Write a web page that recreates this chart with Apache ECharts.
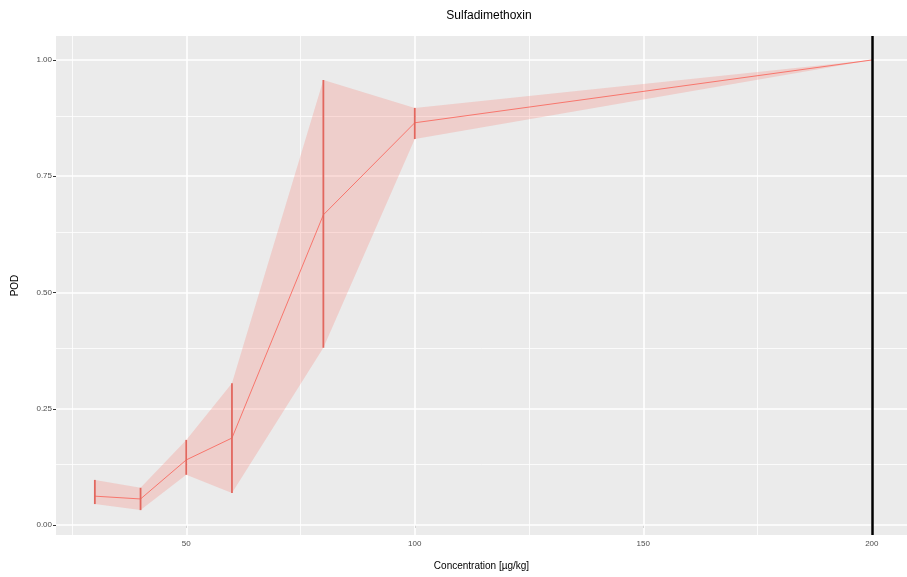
<!DOCTYPE html>
<html>
<head>
<meta charset="utf-8">
<script src="https://cdn.jsdelivr.net/npm/echarts@6/dist/echarts.min.js"></script>
<style>
  html, body { margin: 0; padding: 0; background: #fff; }
  #main { width: 907px; height: 577px; }
</style>
</head>
<body>
<div id="main"></div>
<script>
// concentration levels [µg/kg] and POD estimates with confidence bounds
var conc  = [30, 40, 50, 60, 80, 100, 200];
var pod   = [0.062, 0.056, 0.140, 0.187, 0.667, 0.865, 1.000];
var lower = [0.045, 0.032, 0.108, 0.069, 0.381, 0.830, 1.000];
var upper = [0.097, 0.080, 0.183, 0.305, 0.957, 0.897, 1.000];

var xTicks = [50, 100, 150, 200];
var xMinor = [25, 75, 125, 175];
var yTicks = [0, 0.25, 0.5, 0.75, 1];
var yMinor = [0.125, 0.375, 0.625, 0.875];
var refLine = 200;

var red = '#F8766D';
var font = 'Liberation Sans';

var chart = echarts.init(document.getElementById('main'));

var points = conc.map(function (c, i) { return [c, pod[i]]; });
var bars = conc.map(function (c, i) { return [c, lower[i], upper[i]]; });

// gridlines drawn as marklines so they land on the ggplot break values
function gridLines(vals, key, width) {
  return vals.map(function (v) {
    var d = { lineStyle: { color: '#ffffff', width: width, type: 'solid' } };
    d[key] = v;
    return d;
  });
}

var option = {
  animation: false,
  title: {
    text: 'Sulfadimethoxin',
    left: 484,
    top: 5,
    textAlign: 'center',
    textStyle: { fontFamily: font, fontSize: 12, fontWeight: 'normal', color: '#000' }
  },
  grid: {
    left: 56, right: 0, top: 36, bottom: 42,
    show: true, backgroundColor: '#ebebeb', borderWidth: 0
  },
  xAxis: {
    type: 'value',
    min: 21.5,
    max: 207.7,
    name: 'Concentration [µg/kg]',
    nameLocation: 'middle',
    nameGap: 26,
    nameTextStyle: { fontFamily: font, fontSize: 10, color: '#000' },
    axisLine: { show: false },
    axisTick: { show: true, customValues: xTicks, length: 3, lineStyle: { color: '#333' } },
    axisLabel: { customValues: xTicks, fontFamily: font, fontSize: 8, color: '#4d4d4d', margin: 5 },
    splitLine: { show: false }
  },
  yAxis: {
    type: 'value',
    min: -0.0215,
    max: 1.0516,
    name: 'POD',
    nameLocation: 'middle',
    nameGap: 36,
    nameTextStyle: { fontFamily: font, fontSize: 10, color: '#000' },
    axisLine: { show: false },
    axisTick: { show: true, customValues: yTicks, length: 3, lineStyle: { color: '#333' } },
    axisLabel: {
      customValues: yTicks, fontFamily: font, fontSize: 8, color: '#4d4d4d', margin: 4,
      formatter: function (v) { return v.toFixed(2); }
    },
    splitLine: { show: false }
  },
  series: [
    {
      // background grid
      type: 'line',
      data: [],
      z: 1,
      silent: true,
      markLine: {
        z: 1,
        silent: true,
        symbol: 'none',
        label: { show: false },
        animation: false,
        data: []
          .concat(gridLines(yMinor, 'yAxis', 0.8))
          .concat(gridLines(xMinor, 'xAxis', 0.8))
          .concat(gridLines(yTicks, 'yAxis', 1.6))
          .concat(gridLines(xTicks, 'xAxis', 1.6))
      }
    },
    {
      // confidence ribbon
      type: 'custom',
      z: 2,
      silent: true,
      data: bars,
      renderItem: function (params, api) {
        if (params.dataIndex !== 0) return null;
        var top = [], bottom = [];
        for (var i = 0; i < bars.length; i++) {
          top.push(api.coord([bars[i][0], bars[i][2]]));
          bottom.unshift(api.coord([bars[i][0], bars[i][1]]));
        }
        return {
          type: 'polygon',
          shape: { points: top.concat(bottom) },
          style: { fill: 'rgba(248,118,109,0.25)', stroke: 'none' }
        };
      }
    },
    {
      // POD line
      type: 'line',
      z: 3,
      data: points,
      symbol: 'none',
      lineStyle: { color: red, width: 1 }
    },
    {
      // error bars
      type: 'custom',
      z: 4,
      data: bars,
      renderItem: function (params, api) {
        var a = api.coord([api.value(0), api.value(1)]);
        var b = api.coord([api.value(0), api.value(2)]);
        return {
          type: 'line',
          shape: { x1: a[0], y1: a[1], x2: b[0], y2: b[1] },
          style: { stroke: '#e2675e', lineWidth: 1.8 }
        };
      }
    },
    {
      // reference line at the top concentration
      type: 'line',
      data: [],
      z: 10,
      markLine: {
        z: 10,
        silent: true,
        symbol: 'none',
        label: { show: false },
        animation: false,
        lineStyle: { color: '#000', width: 2.5, type: 'solid' },
        data: [{ xAxis: refLine }]
      }
    }
  ]
};

chart.setOption(option);
</script>
</body>
</html>
